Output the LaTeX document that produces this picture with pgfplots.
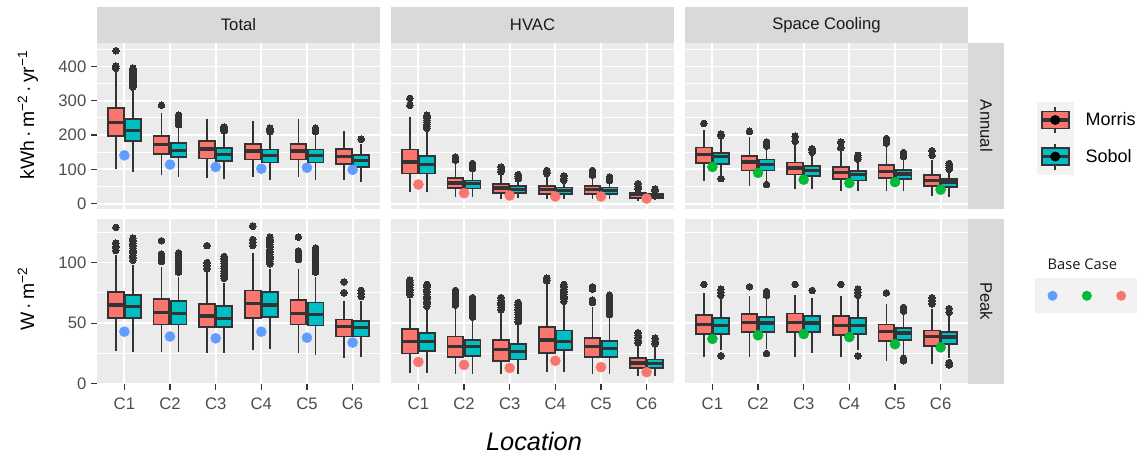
\documentclass[border=0pt]{standalone}
\usepackage{fontspec}
\setmainfont{Liberation Sans}
\newfontfamily\opensans{Open Sans}
\usepackage{pgfplots}
\pgfplotsset{compat=1.18}
\usepgfplotslibrary{statistics}
\definecolor{morris}{HTML}{F8766D}
\definecolor{sobol}{HTML}{00BFC4}
\definecolor{c333}{HTML}{333333}
\definecolor{panelbg}{HTML}{EBEBEB}
\definecolor{stripgray}{HTML}{D9D9D9}
\definecolor{c4d}{HTML}{4D4D4D}
\definecolor{c1a}{HTML}{1A1A1A}
\definecolor{keybg}{HTML}{F2F2F2}
\definecolor{bcblue}{HTML}{619CFF}
\definecolor{bcgreen}{HTML}{00BA38}
\definecolor{bcred}{HTML}{F8766D}

\tikzset{strip/.style={fill=stripgray, inner sep=0pt, font=\fontsize{12.5}{14}\selectfont, text=c1a}}
\pgfplotsset{
  panel/.style={
    scale only axis, width=212.25pt, height=124pt,
    xmin=0.4, xmax=6.6, xtick={1,2,3,4,5,6}, xticklabels={C1,C2,C3,C4,C5,C6},
    axis background/.style={fill=panelbg},
    axis line style={draw=none},
    xmajorgrids, ymajorgrids, yminorgrids,
    major grid style={white, line width=1.4pt},
    minor grid style={white, line width=0.7pt},
    tick align=outside, tick pos=left,
    major tick length=4.5pt, minor tick length=0pt,
    tick style={c333, line width=0.9pt},
    ticklabel style={font=\fontsize{12.5}{14}\selectfont, text=c4d},
    /pgf/number format/assume math mode=true,
    clip=false,
  },
  toprow/.style={ymin=-14, ymax=468, ytick={0,100,200,300,400}, minor ytick={50,150,250,350,450},
    xticklabels={}, xtick style={draw=none}},
  botrow/.style={ymin=-0.2, ymax=136.2, ytick={0,50,100}, minor ytick={25,75,125},
    xticklabel style={yshift=-2pt}},
  inner/.style={yticklabels={}, ytick style={draw=none}},
}

\newcommand{\BX}[8]{%
  \addplot[draw=c333, fill=#1, line width=1.3pt, mark=*, mark size=2.5pt,
    mark options={fill=c333, draw=c333, line width=0pt},
    boxplot/draw direction=y,
    boxplot/box extend=0.345, boxplot/whisker extend=0,
    boxplot/every median/.style={line width=2.5pt},
    boxplot prepared={draw position=#2, lower whisker=#3, lower quartile=#4,
      median=#5, upper quartile=#6, upper whisker=#7}, forget plot]
    coordinates {#8};}

\begin{document}
\begin{tikzpicture}
\useasboundingbox (0,0) rectangle (852.75pt,343.5pt);

% ---------------- Top row: Annual ----------------
\begin{axis}[panel, toprow, name=a11, at={(72.75pt,187.125pt)}, anchor=south west]
\BX{morris}{0.8125}{102}{197}{236}{278}{390}{(0,395)(0,401)(0,446)}
\BX{sobol}{1.1875}{92}{182}{214}{246}{335}{(0,340)(0,345)(0,350)(0,355)(0,360)(0,365)(0,370)(0,375)(0,380)(0,385)(0,390)(0,395)}
\BX{morris}{1.8125}{83}{144}{173}{198}{263}{(0,287)}
\BX{sobol}{2.1875}{78}{136}{156}{178}{225}{(0,230)(0,236)(0,242)(0,248)(0,254)(0,258)}
\BX{morris}{2.8125}{76}{131.5}{159}{182}{248}{}
\BX{sobol}{3.1875}{73}{125}{144}{163}{205}{(0,212)(0,218)(0,224)}
\BX{morris}{3.8125}{78}{129}{154}{175}{242}{}
\BX{sobol}{4.1875}{68}{120}{141}{158}{200}{(0,210)(0,215)(0,220)}
\BX{morris}{4.8125}{78}{129}{154}{175}{246}{}
\BX{sobol}{5.1875}{70}{120}{141}{158}{200}{(0,210)(0,215)(0,220)}
\BX{morris}{5.8125}{68}{115}{138}{159}{211}{}
\BX{sobol}{6.1875}{63}{107}{125}{141}{175}{(0,188)}
\addplot[only marks, mark=*, mark size=3.75pt, color=bcblue, forget plot] coordinates {(1,141)(2,114)(3,107)(4,102)(5,105)(6,99)};
\end{axis}

\begin{axis}[panel, toprow, inner, name=a12, at={(293.25pt,187.125pt)}, anchor=south west]
\BX{morris}{0.8125}{35}{88}{122}{158}{253}{(0,287)(0,307)}
\BX{sobol}{1.1875}{34}{88}{114}{140}{214}{(0,220)(0,226)(0,232)(0,238)(0,244)(0,250)(0,256)(0,258)}
\BX{morris}{1.8125}{19}{46}{60}{75}{122}{(0,127)(0,131)(0,136)}
\BX{sobol}{2.1875}{19}{44}{58}{68}{98}{(0,102)(0,107)(0,112)(0,117)}
\BX{morris}{2.8125}{15}{32}{46}{58}{88}{(0,93)(0,100)(0,107)}
\BX{sobol}{3.1875}{17}{31}{42}{51}{68}{(0,73)(0,79)(0,85)}
\BX{morris}{3.8125}{13}{29}{42}{51}{83}{(0,88)(0,92)(0,97)}
\BX{sobol}{4.1875}{13}{29}{39}{47}{63}{(0,68)(0,74)(0,81)}
\BX{morris}{4.8125}{13}{29}{42}{51}{78}{(0,83)(0,90)(0,97)}
\BX{sobol}{5.1875}{13}{29}{39}{47}{63}{(0,68)(0,73)(0,78)}
\BX{morris}{5.8125}{8}{17.5}{26}{32}{40}{(0,44)(0,51)(0,58)}
\BX{sobol}{6.1875}{10}{17.5}{24}{29}{34}{(0,38)(0,42)}
\addplot[only marks, mark=*, mark size=3.75pt, color=bcred, forget plot] coordinates {(1,56)(2,31)(3,24)(4,21)(5,21)(6,15)};
\end{axis}

\begin{axis}[panel, toprow, inner, name=a13, at={(513.75pt,187.125pt)}, anchor=south west,
  legend style={at={(1.2438,0.6458)}, anchor=north west, draw=none, fill=none,
    inner sep=0pt, outer sep=0pt, row sep=0pt, font=\fontsize{13.5}{16}\selectfont,
    nodes={inner sep=0pt}, /tikz/every odd column/.append style={column sep=9pt}},
  legend cell align=left]
\BX{morris}{0.8125}{66}{119}{144}{164}{215}{(0,234)}
\BX{sobol}{1.1875}{82}{115}{138}{148}{190}{(0,73)(0,198)(0,203)}
\BX{morris}{1.8125}{53}{97}{122}{139}{195}{(0,211)}
\BX{sobol}{2.1875}{66}{97}{115}{129}{163}{(0,56)(0,168)(0,174)(0,180)}
\BX{morris}{2.8125}{44}{85}{104}{120}{170}{(0,182)(0,197)}
\BX{sobol}{3.1875}{44}{81}{97}{110}{145}{(0,150)(0,155)(0,160)}
\BX{morris}{3.8125}{36}{71}{90}{107}{155}{(0,163)(0,180)}
\BX{sobol}{4.1875}{36}{68}{85}{95}{125}{(0,130)(0,136)(0,141)}
\BX{morris}{4.8125}{36}{75}{94}{112}{172}{(0,177)(0,184)(0,190)}
\BX{sobol}{5.1875}{36}{71}{87}{99}{132}{(0,137)(0,143)(0,149)}
\BX{morris}{5.8125}{22}{51}{68}{83}{128}{(0,141)(0,154)}
\BX{sobol}{6.1875}{19}{49}{63}{73}{95}{(0,100)(0,106)(0,112)(0,117)}
\addplot[only marks, mark=*, mark size=3.75pt, color=bcgreen, forget plot] coordinates {(1,107)(2,90)(3,70)(4,60)(5,63)(6,41)};
\addlegendimage{legend image code/.code={
  \fill[keybg] (0pt,-13.5pt) rectangle (27pt,13.5pt);
  \draw[c333,line width=1.3pt] (13.5pt,-9.75pt) -- (13.5pt,9.75pt);
  \filldraw[fill=morris,draw=c333,line width=1.3pt] (3.4pt,-6.4pt) rectangle (23.6pt,6.4pt);
  \draw[c333,line width=2.5pt] (3.4pt,0pt) -- (23.6pt,0pt);
  \fill[black] (13.5pt,0pt) circle (3.5pt);}}
\addlegendentry{Morris}
\addlegendimage{legend image code/.code={
  \fill[keybg] (0pt,-13.5pt) rectangle (27pt,13.5pt);
  \draw[c333,line width=1.3pt] (13.5pt,-9.75pt) -- (13.5pt,9.75pt);
  \filldraw[fill=sobol,draw=c333,line width=1.3pt] (3.4pt,-6.4pt) rectangle (23.6pt,6.4pt);
  \draw[c333,line width=2.5pt] (3.4pt,0pt) -- (23.6pt,0pt);
  \fill[black] (13.5pt,0pt) circle (3.5pt);}}
\addlegendentry{Sobol}
\end{axis}

% ---------------- Bottom row: Peak ----------------
\begin{axis}[panel, botrow, name=a21, at={(72.75pt,55.5pt)}, anchor=south west]
\BX{morris}{0.8125}{27}{54}{65}{76}{106}{(0,110)(0,113)(0,116)(0,129)}
\BX{sobol}{1.1875}{26}{54}{64}{73}{98}{(0,102)(0,104)(0,106)(0,108)(0,110)(0,112)(0,114)(0,116)(0,118)(0,120)}
\BX{morris}{1.8125}{26}{49}{59}{70}{96}{(0,101)(0,104)(0,107)(0,118)}
\BX{sobol}{2.1875}{26}{49}{58}{68}{88}{(0,92)(0,94)(0,96)(0,98)(0,100)(0,102)(0,104)(0,106)(0,108)}
\BX{morris}{2.8125}{25}{47}{56}{66}{92}{(0,95)(0,97.5)(0,100)(0,114)}
\BX{sobol}{3.1875}{25}{47}{54}{64}{83}{(0,87)(0,89)(0,91)(0,93)(0,95)(0,97)(0,99)(0,101)(0,103)(0,105)}
\BX{morris}{3.8125}{28}{54}{66}{77}{108}{(0,114)(0,116.5)(0,119)(0,130)}
\BX{sobol}{4.1875}{29}{55}{65}{76}{95}{(0,99)(0,101)(0,103)(0,105)(0,107)(0,109)(0,111)(0,113)(0,115)(0,117)(0,119)(0,121)}
\BX{morris}{4.8125}{25}{49}{58}{69}{95}{(0,102.5)(0,105)(0,107.5)(0,109.5)(0,121)}
\BX{sobol}{5.1875}{24}{48}{57}{67}{88}{(0,92)(0,94)(0,96)(0,98)(0,100)(0,102)(0,104)(0,106)(0,108)(0,110)(0,112)}
\BX{morris}{5.8125}{21}{39}{47}{53}{68}{(0,75)(0,84)}
\BX{sobol}{6.1875}{22}{39}{46.5}{52}{68}{(0,72)(0,74.5)(0,77)}
\addplot[only marks, mark=*, mark size=3.75pt, color=bcblue, forget plot] coordinates {(1,43)(2,39)(3,37.5)(4,43)(5,38)(6,34)};
\end{axis}

\begin{axis}[panel, botrow, inner, name=a22, at={(293.25pt,55.5pt)}, anchor=south west]
\BX{morris}{0.8125}{9}{25}{35}{45}{70}{(0,73.5)(0,75.5)(0,77.5)(0,79.5)(0,81.5)(0,83.5)(0,85.5)}
\BX{sobol}{1.1875}{9}{27}{35}{42}{61}{(0,64)(0,66)(0,68)(0,70)(0,72)(0,74)(0,76)(0,78)(0,80)(0,82)}
\BX{morris}{1.8125}{8}{22}{31}{39}{62}{(0,65)(0,67)(0,69)(0,71)(0,73)(0,75)(0,77)}
\BX{sobol}{2.1875}{8}{23}{31}{36}{52}{(0,55)(0,57)(0,59)(0,61)(0,63)(0,65)(0,67)(0,69)(0,71)}
\BX{morris}{2.8125}{8}{19}{28}{36}{58}{(0,61)(0,63)(0,65)(0,67)(0,69)(0,71)}
\BX{sobol}{3.1875}{8}{20}{26.5}{33}{48}{(0,51)(0,53)(0,55)(0,57)(0,59)(0,61)(0,63)(0,65)(0,67)}
\BX{morris}{3.8125}{9.6}{25.5}{36}{47}{82}{(0,85)(0,87)}
\BX{sobol}{4.1875}{10}{28}{35}{44}{65}{(0,68)(0,70)(0,72)(0,74)(0,76)(0,78)(0,80)(0,82)}
\BX{morris}{4.8125}{8}{22}{31}{38}{63}{(0,67)(0,69)(0,78)(0,80)}
\BX{sobol}{5.1875}{8}{22}{29}{35}{54}{(0,57)(0,59)(0,61)(0,63)(0,65)(0,67)(0,69)(0,71)(0,73)}
\BX{morris}{5.8125}{6}{13}{17}{21}{31}{(0,34)(0,36)(0,38)(0,40)(0,42)}
\BX{sobol}{6.1875}{6}{13}{16.5}{20}{30}{(0,33)(0,35)(0,37.5)}
\addplot[only marks, mark=*, mark size=3.75pt, color=bcred, forget plot] coordinates {(1,18)(2,15.6)(3,13)(4,19)(5,13.7)(6,9.6)};
\end{axis}

\begin{axis}[panel, botrow, inner, name=a23, at={(513.75pt,55.5pt)}, anchor=south west,
  legend columns=3,
  legend style={at={(1.2403,0.6395)}, anchor=north west, draw=none, fill=none,
    inner sep=0pt, outer sep=0pt, row sep=0pt, column sep=0pt,
    nodes={inner sep=0pt}}]
\BX{morris}{0.8125}{22}{41}{49}{57}{75}{(0,82)}
\BX{sobol}{1.1875}{28}{41}{48}{54}{70}{(0,23)(0,73)(0,75.5)(0,78)}
\BX{morris}{1.8125}{22}{42.5}{50.4}{57.5}{72}{(0,80)}
\BX{sobol}{2.1875}{29}{43}{50}{55}{70}{(0,25)(0,73)(0,76)}
\BX{morris}{2.8125}{22}{42.5}{50.5}{58}{73}{(0,82)}
\BX{sobol}{3.1875}{25}{43}{50}{56}{71}{(0,77)}
\BX{morris}{3.8125}{22}{40.5}{48}{56}{72}{(0,82)}
\BX{sobol}{4.1875}{28}{41}{48}{54}{70}{(0,23)(0,73)(0,75.5)(0,78)}
\BX{morris}{4.8125}{19}{35}{43}{49}{66}{(0,75)}
\BX{sobol}{5.1875}{24}{36}{42}{46}{57}{(0,19)(0,21)(0,60)(0,63)}
\BX{morris}{5.8125}{16}{31}{39}{44}{62}{(0,66)(0,68.5)(0,71)}
\BX{sobol}{6.1875}{21}{33}{38.5}{43}{56}{(0,15.5)(0,17.5)(0,59)(0,62)}
\addplot[only marks, mark=*, mark size=3.75pt, color=bcgreen, forget plot] coordinates {(1,37)(2,40)(3,41)(4,38.5)(5,32.6)(6,30)};
\addlegendimage{legend image code/.code={
  \fill[keybg, draw=none, overlay] (-1pt,-13.125pt) rectangle (26pt,13.125pt);
  \path[draw=none, fill=none] (0pt,-13.125pt) rectangle (24.75pt,13.125pt);
  \fill[bcblue, draw=none] (12.375pt,0pt) circle (3.75pt);}}
\addlegendentry{}
\addlegendimage{legend image code/.code={
  \fill[keybg, draw=none, overlay] (-1pt,-13.125pt) rectangle (26pt,13.125pt);
  \path[draw=none, fill=none] (0pt,-13.125pt) rectangle (24.75pt,13.125pt);
  \fill[bcgreen, draw=none] (12.375pt,0pt) circle (3.75pt);}}
\addlegendentry{}
\addlegendimage{legend image code/.code={
  \fill[keybg, draw=none, overlay] (-1pt,-13.125pt) rectangle (30pt,13.125pt);
  \path[draw=none, fill=none] (0pt,-13.125pt) rectangle (24.75pt,13.125pt);
  \fill[bcred, draw=none] (12.375pt,0pt) circle (3.75pt);}}
\addlegendentry{}
\end{axis}

% strips
\node[strip, anchor=south, minimum width=212.25pt, minimum height=27pt] at (a11.north) {Total};
\node[strip, anchor=south, minimum width=212.25pt, minimum height=27pt] at (a12.north) {HVAC};
\node[strip, anchor=south, minimum width=212.25pt, minimum height=27pt] at (a13.north) {Space Cooling};
\node[strip, rotate=-90, anchor=south, minimum width=124pt, minimum height=27pt] at (a13.east) {Annual};
\node[strip, rotate=-90, anchor=south, minimum width=124pt, minimum height=27pt] at (a23.east) {Peak};

% axis titles
\node[rotate=90, anchor=base, font=\fontsize{14.5}{17}\selectfont] at (25.5pt,257.25pt)
  {kWh\,·\,m\textsuperscript{−2}\,·\,yr\textsuperscript{−1}};
\node[rotate=90, anchor=base, font=\fontsize{14.5}{17}\selectfont] at (25.5pt,119.25pt)
  {W\,·\,m\textsuperscript{−2}};
\node[anchor=base, font=\fontsize{19}{22}\selectfont\itshape] at (400.5pt,6pt) {Location};
\node[anchor=base west, font=\opensans\fontsize{11}{13}\selectfont, text=c1a] at (782.25pt,141.5pt) {Base Case};
\end{tikzpicture}
\end{document}
